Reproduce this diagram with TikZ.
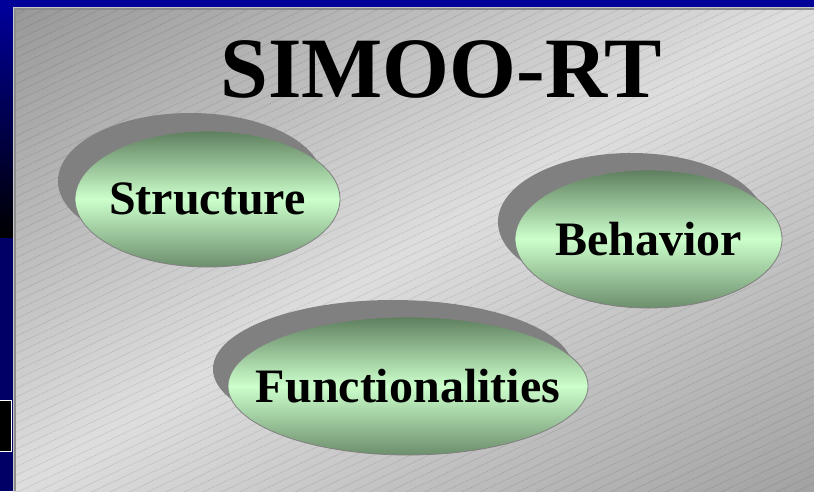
\documentclass[tikz,border=0pt]{standalone}
\usepackage{fontspec}
\setmainfont{Liberation Serif}
\usetikzlibrary{shapes.geometric,calc}

\definecolor{slideblue}{HTML}{000099}
\definecolor{slidenavy}{HTML}{000066}
\definecolor{paneltl}{HTML}{989898}
\definecolor{panelbr}{HTML}{A2A2A2}
\definecolor{panelmid}{HTML}{DEDEDE}
\definecolor{edgelight}{HTML}{C8C8C8}
\definecolor{edgedark}{HTML}{8C8C8C}
\definecolor{bubbletop}{HTML}{5E7F5E}
\definecolor{bubblebottom}{HTML}{6C8E6C}
\definecolor{bubblemid}{HTML}{CCFFCC}
\definecolor{shadowgray}{HTML}{808080}

\tikzset{
  hatch/.style={black, opacity=0.13, line width=0.8pt, dash pattern=on 1.2pt off 1pt},
  blob/.style={ellipse, inner sep=0pt, fill=shadowgray},
  bubble/.style={ellipse, inner sep=0pt, draw=shadowgray, line width=0.8pt,
    top color=bubbletop, bottom color=bubblebottom, middle color=bubblemid},
  bubbletext/.style={inner sep=0pt, font=\bfseries\fontsize{48}{52}\selectfont},
  titletext/.style={inner sep=0pt, font=\bfseries\fontsize{86}{90}\selectfont}
}

\begin{document}
\begin{tikzpicture}[x=1pt,y=-1pt]
\useasboundingbox (0,0) rectangle (814,491);

% blue slide frame
\fill[slideblue] (0,0) rectangle (814,7);
\shade[top color=slideblue, bottom color=black] (0,7) rectangle (13,238);
\fill[slidenavy] (0,238) rectangle (13,491);
\fill[black] (0,400) rectangle (12,452);
\draw[white, line width=1pt] (0,400.5) -- (11.5,400.5) -- (11.5,451.5) -- (0,451.5);

% gray panel: bands parallel to the rising diagonal, dark in the two
% far corners and light along the diagonal itself
\begin{scope}
  \clip (13,7) rectangle (814,491);
  \foreach \k in {0,...,79} {
    \pgfmathsetmacro{\sa}{\k/80}
    \pgfmathsetmacro{\sb}{(\k+1.4)/80}
    \pgfmathsetmacro{\tm}{(\k+0.5)/80}
    \pgfmathsetmacro{\pc}{\tm<0.5 ? 200*\tm : 200*(1-\tm)}
    \ifdim\tm pt<0.5pt
      \colorlet{bandcol}{panelmid!\pc!paneltl}
    \else
      \colorlet{bandcol}{panelmid!\pc!panelbr}
    \fi
    \fill[bandcol]
      ($(13,7)+\sa*(801,484)+(801,-484)$) -- ($(13,7)+\sa*(801,484)-(801,-484)$) --
      ($(13,7)+\sb*(801,484)-(801,-484)$) -- ($(13,7)+\sb*(801,484)+(801,-484)$) -- cycle;
  }
  \foreach \i in {0,...,102}
    \draw[hatch] (13,7+\i*8.7) -- ++(801,-376.5);
\end{scope}
\fill[edgelight] (13,7) rectangle (814,8);
\fill[edgedark] (14,8) rectangle (814,10);
\fill[edgelight] (13,7) rectangle (14,491);
\fill[edgedark] (14,8) rectangle (16,491);

% title
\node[titletext] (title) at (441,69) {SIMOO-RT};

% bubbles with their drop shadows
\node[blob, minimum width=265pt, minimum height=136pt] (structure-shadow) at (190.5,181) {};
\node[bubble, minimum width=265pt, minimum height=136pt] (structure) at (207.5,199) {};
\node[bubbletext] (structure-label) at (structure) {Structure};

\node[blob, minimum width=267pt, minimum height=138pt] (behavior-shadow) at (631.5,222) {};
\node[bubble, minimum width=267pt, minimum height=138pt] (behavior) at (648.5,239) {};
\node[bubbletext] (behavior-label) at (behavior) {Behavior};

\node[blob, minimum width=360pt, minimum height=138pt] (functionalities-shadow) at (393,369) {};
\node[bubble, minimum width=360pt, minimum height=138pt] (functionalities) at (408,386) {};
\node[bubbletext] (functionalities-label) at (functionalities) {Functionalities};
\end{tikzpicture}
\end{document}
